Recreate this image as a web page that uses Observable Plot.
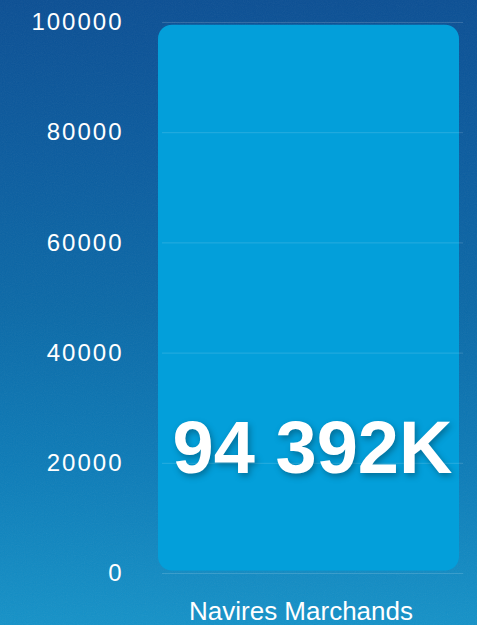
<!DOCTYPE html>
<html>
<head>
<meta charset="utf-8">
<script src="https://cdn.jsdelivr.net/npm/d3@7"></script>
<script src="https://cdn.jsdelivr.net/npm/@observablehq/plot@0.6"></script>
<style>
  html, body { margin: 0; padding: 0; width: 477px; height: 625px; overflow: hidden; }
  body {
    background: linear-gradient(to bottom, #0b4f94 0%, #0b5c9f 25%, #0b6aa8 50%, #0d7cb8 75%, #1592c8 100%);
    font-family: "Liberation Sans", Arial, sans-serif;
    position: relative;
  }
  #noise {
    position: absolute; left: 0; top: 0; width: 477px; height: 625px; pointer-events: none; opacity: 0.07;
  }
  #chart { position: absolute; left: 0; top: 0; }
  #chart svg { background: transparent !important; overflow: visible; }
  .ytick text { letter-spacing: 2px; }
  .barlabel text { letter-spacing: 0px; filter: drop-shadow(2px 3px 3px rgba(0,0,0,0.3)); }
</style>
</head>
<body>
<svg id="noise" width="477" height="625">
  <filter id="n"><feTurbulence type="fractalNoise" baseFrequency="0.9" numOctaves="2" stitchTiles="stitch"/><feColorMatrix type="saturate" values="0"/></filter>
  <rect width="477" height="625" filter="url(#n)"/>
</svg>
<div id="chart"></div>
<script>
const categories = ["Navires Marchands"];
const values = [99500];
const valueLabels = ["94 392K"];
const yTicks = [0, 20000, 40000, 60000, 80000, 100000];

const data = categories.map((c, i) => ({category: c, value: values[i], label: valueLabels[i]}));

const chart = Plot.plot({
  width: 477,
  height: 625,
  marginTop: 22,
  marginBottom: 52,
  marginLeft: 158,
  marginRight: 18,
  style: {background: "transparent", color: "white", fontFamily: "'Liberation Sans', Arial, sans-serif"},
  x: {domain: categories, padding: 0},
  y: {domain: [0, 100000]},
  marks: [
    Plot.barY(data, {x: "category", y: "value", fill: "#039fda", rx: 14, insetBottom: 2.5}),
    Plot.gridY(yTicks, {stroke: "rgba(255,255,255,0.15)", strokeOpacity: 1, strokeWidth: 1, dx: 4}),
    Plot.axisY(yTicks, {tickSize: 0, tickPadding: 35, fontSize: 24, fill: "white", tickFormat: d => String(d), label: null, className: "ytick"}),
    Plot.axisX({tickSize: 0, tickPadding: 28, fontSize: 26, fill: "white", dx: -8, label: null}),
    Plot.text(data, {x: "category", text: "label", frameAnchor: "bottom", dy: -101, dx: 3.5, fontSize: 74, fontWeight: "bold", fill: "white", className: "barlabel"})
  ]
});
document.getElementById("chart").appendChild(chart);
</script>
</body>
</html>
